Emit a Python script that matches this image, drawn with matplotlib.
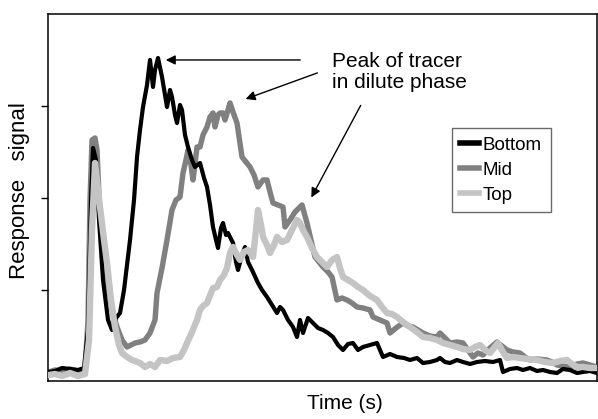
import numpy as np
import matplotlib
matplotlib.use('Agg')
import matplotlib.pyplot as plt

plt.rcParams['font.family'] = ['Liberation Sans', 'DejaVu Sans']

# tracer response at three heights: (time, signal)
bottom = [(1, 9), (7, 10), (14, 13), (22, 12), (30, 11), (36, 13), (40, 51), (43, 181), (45, 233), (48, 221),
          (51, 161), (55, 101), (60, 61), (64, 51), (68, 63), (72, 68), (76, 91), (82, 141), (86, 181), (89, 224),
          (92, 251), (95, 274), (99, 296), (102, 321), (105, 294), (107, 311), (110, 323), (114, 304), (117, 286),
          (119, 274), (122, 291), (124, 284), (127, 266), (129, 258), (132, 276), (134, 271), (137, 246), (140, 234),
          (144, 221), (147, 214), (152, 218), (156, 203), (159, 194), (162, 176), (165, 154), (168, 141), (170, 133),
          (173, 153), (175, 158), (178, 146), (180, 148), (185, 138), (188, 119), (190, 111), (194, 126), (197, 134),
          (200, 119), (204, 111), (210, 98), (214, 91), (219, 84), (224, 76), (229, 68), (232, 74), (235, 71),
          (240, 61), (245, 54), (249, 44), (252, 61), (255, 48), (260, 63), (265, 58), (270, 53), (275, 51),
          (280, 48), (285, 44), (290, 36), (295, 31), (300, 37), (305, 38), (310, 31), (315, 34), (322, 36),
          (329, 38), (335, 24), (342, 27), (349, 24), (356, 23), (362, 21), (369, 23), (375, 18), (382, 19),
          (389, 21), (392, 23), (397, 19), (402, 18), (409, 21), (415, 19), (422, 17), (429, 19), (437, 20),
          (445, 19), (452, 21), (455, 9), (462, 12), (469, 13), (475, 11), (482, 13), (489, 10), (495, 11),
          (502, 9), (509, 8), (515, 12), (522, 11), (529, 8), (535, 9), (542, 10), (549, 8)]

mid = [(1, 9), (7, 11), (14, 10), (22, 12), (30, 10), (37, 12), (40, 61), (42, 181), (44, 241), (47, 243),
       (49, 231), (52, 161), (56, 121), (60, 94), (64, 71), (69, 54), (74, 41), (79, 34), (83, 36), (87, 38),
       (92, 39), (97, 41), (102, 48), (107, 61), (109, 88), (114, 113), (119, 141), (124, 171), (128, 181),
       (132, 184), (135, 208), (138, 221), (140, 231), (143, 216), (145, 201), (149, 234), (152, 234), (155, 246),
       (159, 254), (162, 264), (165, 268), (167, 254), (170, 266), (172, 268), (175, 268), (177, 261), (180, 271),
       (182, 278), (185, 269), (189, 258), (194, 224), (198, 219), (202, 214), (206, 206), (210, 194), (215, 201),
       (219, 201), (222, 189), (225, 178), (230, 176), (235, 174), (237, 154), (242, 161), (247, 169), (252, 174),
       (254, 176), (259, 158), (263, 141), (267, 124), (271, 119), (275, 114), (280, 109), (284, 104), (289, 81),
       (294, 83), (299, 81), (304, 78), (309, 74), (315, 73), (322, 71), (325, 64), (332, 61), (339, 58),
       (342, 48), (348, 53), (355, 58), (360, 55), (365, 54), (370, 51), (375, 48), (382, 45), (389, 44),
       (392, 48), (397, 43), (402, 38), (409, 39), (415, 38), (420, 31), (425, 24), (430, 28), (435, 26),
       (442, 33), (449, 39), (454, 35), (459, 31), (465, 29), (472, 28), (477, 24), (482, 21), (489, 22),
       (499, 21), (504, 19), (509, 16), (515, 15), (522, 14), (529, 17), (535, 18), (542, 16), (549, 14)]

top = [(1, 6), (7, 7), (14, 5), (22, 8), (30, 5), (37, 7), (41, 41), (44, 151), (47, 218), (50, 191),
       (52, 174), (56, 141), (59, 118), (63, 81), (67, 54), (71, 36), (74, 28), (79, 24), (84, 21), (92, 18),
       (97, 14), (102, 17), (107, 14), (112, 21), (119, 20), (125, 23), (132, 24), (136, 31), (139, 38),
       (144, 49), (149, 61), (152, 71), (155, 75), (159, 78), (165, 93), (169, 94), (172, 101), (176, 106),
       (179, 113), (182, 128), (185, 134), (189, 126), (192, 121), (196, 129), (200, 131), (205, 124), (208, 151),
       (210, 171), (213, 156), (215, 144), (219, 136), (222, 128), (226, 136), (229, 144), (234, 139), (239, 141),
       (244, 151), (249, 161), (252, 158), (255, 151), (259, 144), (264, 133), (269, 124), (274, 119), (279, 114),
       (284, 121), (289, 124), (292, 113), (295, 104), (300, 101), (305, 98), (310, 94), (315, 91), (322, 85),
       (329, 81), (334, 74), (339, 68), (344, 67), (349, 64), (355, 59), (362, 54), (369, 49), (375, 44),
       (382, 43), (389, 41), (395, 38), (402, 36), (409, 34), (415, 32), (422, 31), (427, 34), (432, 36),
       (437, 31), (442, 28), (446, 33), (450, 38), (455, 29), (459, 23), (465, 24), (472, 23), (480, 22),
       (489, 21), (497, 19), (505, 18), (512, 20), (519, 21), (524, 17), (529, 14), (535, 14), (542, 13), (549, 13)]

fig = plt.figure(figsize=(5.98, 4.19), dpi=100)
ax = fig.add_axes([0.0803, 0.0907, 0.918, 0.876])

t, s = np.array(mid).T
ax.plot(t, s, color='#808080', lw=3.9, label='Mid', zorder=2)
t, s = np.array(bottom).T
ax.plot(t, s, color='black', lw=3.0, label='Bottom', zorder=3)
t, s = np.array(top).T
ax.plot(t, s, color='#c4c4c4', lw=4.6, label='Top', zorder=4)

ax.set_xlim(0, 549)
ax.set_ylim(0, 367)
ax.set_xticks([])
ax.set_yticks([91, 183, 275])
ax.set_yticklabels([])
ax.tick_params(axis='y', direction='out', length=5, width=1)
for sp in ax.spines.values():
    sp.set_linewidth(1.1)

ax.set_xlabel('Time (s)', fontsize=15)
ax.xaxis.set_label_coords(0.541, -0.036)
ax.set_ylabel('Response   signal', fontsize=16)
ax.yaxis.set_label_coords(-0.033, 0.52)

# arrows to the dilute-phase peaks
arrow = dict(arrowstyle='-|>', color='black', lw=1, mutation_scale=14)
ax.annotate('', xy=(115, 321), xytext=(255, 321), arrowprops=arrow)
ax.annotate('', xy=(195, 281), xytext=(272, 309), arrowprops=arrow)
ax.annotate('', xy=(262, 181), xytext=(314, 278), arrowprops=arrow)
ax.text(284, 309, 'Peak of tracer\nin dilute phase', fontsize=15, ha='left', va='center', linespacing=1.12)

h, l = ax.get_legend_handles_labels()
order = [1, 0, 2]
leg = ax.legend([h[i] for i in order], [l[i] for i in order], loc='upper left',
                bbox_to_anchor=(0.736, 0.689), borderaxespad=0, fontsize=13.5, fancybox=False,
                handlelength=1.0, handletextpad=0.2, labelspacing=0.42, borderpad=0.45)
leg.get_frame().set_edgecolor('#444444')
leg.get_frame().set_linewidth(1)
for line in leg.get_lines():
    line.set_linewidth(4)

fig.savefig('out.png', dpi=100)
